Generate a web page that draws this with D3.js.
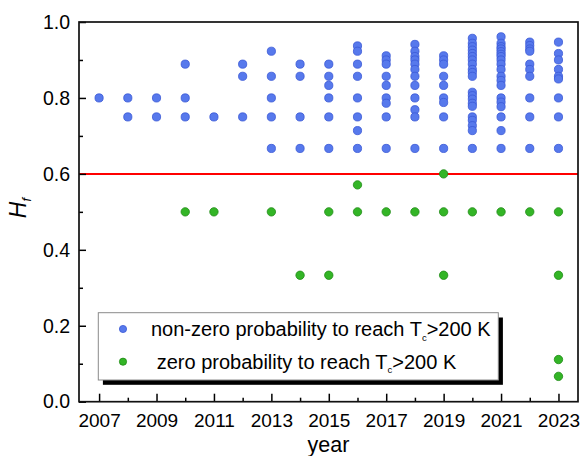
<!DOCTYPE html>
<html>
<head>
<meta charset="utf-8">
<script src="https://cdn.jsdelivr.net/npm/d3@7"></script>
<style>
  body { margin: 0; background: white; }
  svg { font-family: "Liberation Sans", Arial, sans-serif; }
</style>
</head>
<body>
<svg id="chart" width="583" height="456"></svg>
<script>
// H_f values per year
const years = [2007, 2008, 2009, 2010, 2011, 2012, 2013, 2014, 2015,
               2016, 2017, 2018, 2019, 2020, 2021, 2022, 2023];

const nonZeroValues = [
  [0.8],
  [0.8, 0.75],
  [0.8, 0.75],
  [0.889, 0.8, 0.75],
  [0.75],
  [0.889, 0.857, 0.75],
  [0.923, 0.857, 0.8, 0.75, 0.667],
  [0.889, 0.857, 0.75, 0.667],
  [0.889, 0.857, 0.833, 0.8, 0.75, 0.667],
  [0.937, 0.923, 0.889, 0.857, 0.8, 0.75, 0.714, 0.667],
  [0.911, 0.9, 0.889, 0.857, 0.833, 0.8, 0.786, 0.75, 0.667],
  [0.941, 0.923, 0.909, 0.9, 0.889, 0.875, 0.857, 0.833, 0.8, 0.769, 0.75, 0.667],
  [0.911, 0.9, 0.889, 0.857, 0.833, 0.8, 0.788, 0.75, 0.667],
  [0.957, 0.944, 0.935, 0.926, 0.917, 0.909, 0.9, 0.889, 0.875, 0.867, 0.857,
   0.815, 0.806, 0.797, 0.786, 0.778, 0.75, 0.741, 0.727, 0.714, 0.667],
  [0.961, 0.944, 0.935, 0.929, 0.922, 0.915, 0.909, 0.9, 0.889, 0.875, 0.857,
   0.846, 0.833, 0.8, 0.789, 0.777, 0.75, 0.714, 0.667],
  [0.947, 0.938, 0.929, 0.923, 0.889, 0.875, 0.857, 0.8, 0.75, 0.667],
  [0.947, 0.917, 0.9, 0.875, 0.857, 0.85, 0.8, 0.75, 0.667]
];

const zeroValues = [
  [], [], [], [0.5], [0.5], [], [0.5], [0.333], [0.5, 0.333],
  [0.571, 0.5], [0.5], [0.5], [0.6, 0.5, 0.333], [0.5], [0.5], [0.5],
  [0.5, 0.333, 0.111, 0.0667]
];

const majorYears = [2007, 2009, 2011, 2013, 2015, 2017, 2019, 2021, 2023];
const minorYears = [2008, 2010, 2012, 2014, 2016, 2018, 2020, 2022];
const majorY = [0, 0.2, 0.4, 0.6, 0.8, 1.0];
const minorY = [0.1, 0.3, 0.5, 0.7, 0.9];
const threshold = 0.6;

const legendLabels = ["non-zero probability to reach T", "zero probability to reach T"];

const margin = { top: 22, right: 5, bottom: 54.3, left: 79 };
const width = 583;
const height = 456;

const svg = d3.select("#chart");

const x = d3.scaleLinear([2006.3, 2023.68], [margin.left, width - margin.right]);
const y = d3.scaleLinear([0, 1], [height - margin.bottom, margin.top]);

const blue = { fill: "#5779ec", stroke: "#3a58d6" };
const green = { fill: "#33b526", stroke: "#1e8a14" };

// threshold line
svg.append("line")
  .attr("x1", x.range()[0])
  .attr("x2", x.range()[1])
  .attr("y1", y(threshold))
  .attr("y2", y(threshold))
  .attr("stroke", "#ff0000")
  .attr("stroke-width", 2);

const blueRows = years.flatMap((yr, i) => nonZeroValues[i].map((v) => ({ year: yr, value: v })));
const greenRows = years.flatMap((yr, i) => zeroValues[i].map((v) => ({ year: yr, value: v })));

svg.append("g")
  .selectAll("circle")
  .data(blueRows)
  .join("circle")
  .attr("cx", (d) => x(d.year))
  .attr("cy", (d) => y(d.value))
  .attr("r", 4.1)
  .attr("fill", blue.fill)
  .attr("stroke", blue.stroke)
  .attr("stroke-width", 0.8);

svg.append("g")
  .selectAll("circle")
  .data(greenRows)
  .join("circle")
  .attr("cx", (d) => x(d.year))
  .attr("cy", (d) => y(d.value))
  .attr("r", 4.2)
  .attr("fill", green.fill)
  .attr("stroke", green.stroke)
  .attr("stroke-width", 0.8);

// axes, ticks pointing inward
const xAxis = svg.append("g")
  .attr("transform", `translate(0, ${y.range()[0]})`)
  .call(d3.axisBottom(x).tickValues(majorYears).tickFormat(d3.format("d"))
    .tickSizeInner(-8).tickSizeOuter(0).tickPadding(11.5));
xAxis.select(".domain").remove();
xAxis.selectAll("text").attr("font-size", 19).attr("font-family", null).attr("fill", "#000");
xAxis.selectAll("line").attr("stroke-width", 1.5);

const xMinor = svg.append("g")
  .attr("transform", `translate(0, ${y.range()[0]})`)
  .call(d3.axisBottom(x).tickValues(minorYears).tickFormat("").tickSizeInner(-4).tickSizeOuter(0));
xMinor.select(".domain").remove();
xMinor.selectAll("line").attr("stroke-width", 1.5);

const yAxis = svg.append("g")
  .attr("transform", `translate(${x.range()[0]}, 0)`)
  .call(d3.axisLeft(y).tickValues(majorY).tickFormat(d3.format(".1f"))
    .tickSizeInner(-7).tickSizeOuter(0).tickPadding(9));
yAxis.select(".domain").remove();
yAxis.selectAll("text").attr("font-size", 19.5).attr("font-family", null).attr("fill", "#000");
yAxis.selectAll("line").attr("stroke-width", 1.5);

const yMinor = svg.append("g")
  .attr("transform", `translate(${x.range()[0]}, 0)`)
  .call(d3.axisLeft(y).tickValues(minorY).tickFormat("").tickSizeInner(-4).tickSizeOuter(0));
yMinor.select(".domain").remove();
yMinor.selectAll("line").attr("stroke-width", 1.5);

// frame
svg.append("rect")
  .attr("x", x.range()[0])
  .attr("y", y.range()[1])
  .attr("width", x.range()[1] - x.range()[0])
  .attr("height", y.range()[0] - y.range()[1])
  .attr("fill", "none")
  .attr("stroke", "#111")
  .attr("stroke-width", 1.7);

// axis titles
svg.append("text")
  .attr("x", (x.range()[0] + x.range()[1]) / 2)
  .attr("y", 452)
  .attr("text-anchor", "middle")
  .attr("font-size", 21.5)
  .text("year");

const yTitle = svg.append("text")
  .attr("transform", "translate(26, 208) rotate(-90)")
  .attr("text-anchor", "middle")
  .attr("font-size", 23)
  .attr("font-style", "italic");
yTitle.append("tspan").text("H");
yTitle.append("tspan").attr("font-size", 13).attr("dy", 5).text("f");

// legend
const legend = svg.append("g").attr("transform", "translate(98.3, 312.7)");
legend.append("rect")
  .attr("x", 4.6).attr("y", 4.8)
  .attr("width", 400).attr("height", 67.3)
  .attr("fill", "#000");
legend.append("rect")
  .attr("width", 400).attr("height", 67.3)
  .attr("fill", "#fff")
  .attr("stroke", "#8a8a8a")
  .attr("stroke-width", 1);

[blue, green].forEach((c, i) => {
  const row = legend.append("g").attr("transform", `translate(0, ${16.3 + i * 32.7})`);
  row.append("circle")
    .attr("cx", 24.7).attr("cy", 0).attr("r", 3.6)
    .attr("fill", c.fill).attr("stroke", c.stroke).attr("stroke-width", 0.8);
  const t = row.append("text")
    .attr("x", i === 0 ? 52.7 : 58.4)
    .attr("y", 6.8)
    .attr("font-size", 20);
  t.append("tspan").text(legendLabels[i]);
  t.append("tspan").attr("font-size", 9.5).attr("dy", 5).text("c");
  t.append("tspan").attr("dy", -5).text(">200 K");
});
</script>
</body>
</html>
